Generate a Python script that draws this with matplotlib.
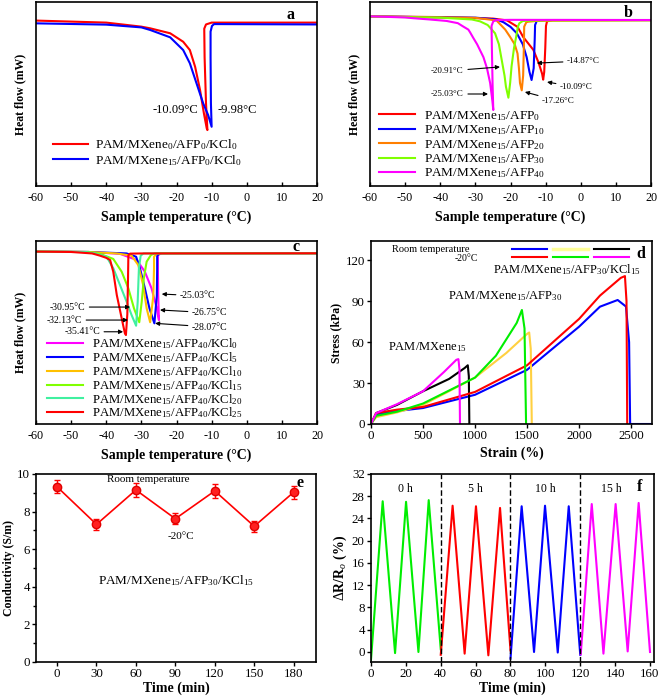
import matplotlib
matplotlib.use('Agg')
import matplotlib.pyplot as plt
from matplotlib.lines import Line2D
from matplotlib.ticker import MultipleLocator

plt.rcParams['font.family'] = ['Liberation Serif', 'DejaVu Serif']
plt.rcParams['mathtext.fontset'] = 'custom'
plt.rcParams['mathtext.rm'] = 'Liberation Serif'
plt.rcParams['mathtext.it'] = 'Liberation Serif:italic'
plt.rcParams['mathtext.bf'] = 'Liberation Serif:bold'
plt.rcParams['axes.unicode_minus'] = False

# ---------------- data ----------------
# panel a (temperature, heat flow arbitrary units)
a_red_T = [-60, -40, -30, -27.5, -21.8, -18.1, -16.2, -14.7, -13.3, -12.2, -11.4, -11.2, -11.6, -12.0, -12.1, -11.6, -10.0, 20]
a_red_y = [-10.1, -11.2, -13.4, -14.3, -17.0, -21.6, -26.1, -35.2, -47.8, -60.5, -68.6, -69.6, -55, -30, -14.5, -12.2, -11.2, -11.2]
a_blue_T = [-60, -40, -30, -27.5, -21.8, -18.1, -16.2, -14.3, -12.4, -11.0, -10.0, -10.2, -10.3, -10.3, -9.9, -9.3, 20]
a_blue_y = [-11.6, -12.3, -13.8, -15.2, -19.2, -26.1, -33.3, -44.2, -55.1, -61.4, -67.8, -55, -30, -16.1, -13.0, -12.0, -12.2]

# panel b
b_red_T = [-60, -40, -25, -21, -18, -16.4, -13.5, -12, -11, -10.7, -10.4, -10.1, -9.9, -9.6, -8, 20]
b_red_y = [-7.8, -8.2, -9.0, -10.0, -13.5, -19, -26, -33, -39, -42.2, -38, -25, -13, -10.5, -9.8, -9.8]
b_blue_T = [-60, -30, -24, -22, -20, -18.2, -16.5, -15.4, -14.6, -14.0, -13.4, -13.1, -13.0, -12.5, -10, 20]
b_blue_y = [-7.9, -8.5, -9.5, -11, -13.5, -17, -23, -30, -38, -42.4, -36, -20, -12.5, -10.2, -9.8, -9.8]
b_orange_T = [-60, -30, -24, -21.5, -20.1, -18.8, -18.0, -17.6, -17.3, -16.8, -16.4, -16.2, -16.1, -15.5, -14.9, -12, 20]
b_orange_y = [-7.9, -8.6, -10, -15, -19, -23, -28, -36, -44, -48, -40, -25, -13.4, -11, -10.7, -10.2, -9.9]
b_green_T = [-60, -40, -31, -28.7, -26.5, -24.4, -23.3, -22.5, -21.7, -21.3, -20.6, -20.1, -19.7, -19.0, -18.4, -17.9, -17.5, -16.5, -12, 20]
b_green_y = [-7.9, -8.5, -9.5, -10.5, -12.5, -17, -23, -31.5, -40, -46, -52, -44, -35, -25, -19, -13.5, -11.6, -10.3, -10, -9.9]
b_mag_T = [-60, -50, -47.7, -43, -38.2, -35, -33.4, -32, -31.5, -30.6, -29.5, -27.7, -26.7, -25.8, -25.2, -24.9, -25.1, -25.3, -25.4, -24.9, -23.9, -20, 20]
b_mag_y = [-7.8, -8.4, -8.8, -9.5, -10.3, -11.5, -13.4, -15, -16.5, -19.5, -23, -30, -36, -44, -53, -58.7, -45, -25, -13, -10.5, -9.8, -9.7, -9.8]

# panel c
c_mag_T = [-60, -45, -36.1, -31.3, -29.0, -27.1, -25.6, -25.0, -25.2, -25.3, -25.3, -24.2, 20]
c_mag_y = [-5.8, -6.0, -7.0, -10.4, -16.8, -25.9, -36.8, -43.2, -30, -15, -7.7, -6.6, -6.7]
c_blue_T = [-60, -45, -34.2, -31.5, -30.4, -29.0, -27.7, -26.3, -25.6, -25.5, -25.5, -24.7, 20]
c_blue_y = [-5.8, -6.0, -6.8, -8.6, -14.9, -25.9, -36.8, -45.0, -30, -15, -8.0, -6.7, -6.7]
c_yel_T = [-60, -45, -37.0, -32.8, -30.9, -29.5, -28.5, -27.5, -26.6, -26.4, -26.4, -25.6, 20]
c_yel_y = [-5.8, -6.0, -6.8, -8.0, -13.1, -24.0, -36.8, -44.4, -30, -15, -8.6, -6.7, -6.7]
c_grn_T = [-60, -45, -41.8, -38.0, -35.6, -33.7, -32.1, -30.6, -29.9, -29.3, -28.5, -27.3, -26.2, 20]
c_grn_y = [-5.8, -6.0, -7.0, -9.8, -16.8, -25.9, -36.8, -44.4, -33.2, -20.4, -11.3, -7.7, -6.7, -6.7]
c_cyan_T = [-60, -46, -43.2, -39.9, -38.0, -36.1, -34.2, -32.8, -31.5, -31.05, -30.7, -30.2, -29.4, 20]
c_cyan_y = [-5.8, -6.0, -6.8, -8.6, -14.9, -24.0, -33.2, -40.4, -46.3, -33.2, -14.9, -8.0, -6.8, -6.7]
c_red_T = [-60, -50, -44, -41.8, -40, -38.9, -38.0, -37.0, -35.6, -34.7, -34.4, -34.0, -33.8, -33.7, -33.2, -30, 20]
c_red_y = [-5.8, -6.0, -6.8, -8.0, -9.2, -10.4, -16.8, -29.5, -42.3, -50.4, -51.4, -40, -20, -7.7, -6.9, -6.8, -6.7]

# panel d (strain %, stress kPa)
d_blue_x = [0, 50, 250, 500, 1000, 1500, 2000, 2200, 2370, 2450, 2480, 2490, 2700]
d_blue_y = [0, 7, 9.5, 11.7, 21.4, 39.7, 71.3, 85.9, 90.8, 86, 60, 0, 0]
d_red_x = [0, 50, 250, 500, 1000, 1500, 2000, 2200, 2400, 2440, 2455, 2462]
d_red_y = [0, 8, 10.5, 12.5, 23.5, 43, 77, 94, 107, 108.3, 90, 0]
d_yel_x = [0, 50, 250, 500, 1000, 1300, 1500, 1520, 1535, 1545]
d_yel_y = [0, 5, 8.5, 14, 34, 52, 66, 67, 55, 0]
d_grn_x = [0, 50, 250, 500, 1000, 1200, 1400, 1450, 1475, 1490]
d_grn_y = [0, 6, 9, 15, 34, 50, 74, 83.5, 70, 0]
d_blk_x = [0, 50, 250, 500, 750, 900, 930, 940, 945]
d_blk_y = [0, 8, 14, 24, 33, 41, 43, 35, 0]
d_mag_x = [0, 50, 250, 500, 700, 820, 840, 850, 855]
d_mag_y = [0, 8, 14.5, 24, 38, 47, 47.5, 40, 0]

# panel e
e_time = [0, 30, 60, 90, 120, 150, 180]
e_cond = [9.32, 7.32, 9.15, 7.62, 9.1, 7.22, 9.03]
e_err = [0.35, 0.3, 0.35, 0.3, 0.35, 0.3, 0.35]

# panel f
f_g_t = [0, 6.7, 13.8, 20.1, 27.2, 33.1, 40]
f_g_r = [-1.4, 27.1, -0.2, 27.0, 0.0, 27.3, 0.5]
f_r_t = [40, 46.8, 53.7, 60.2, 67.3, 74, 80]
f_r_r = [-0.5, 26.3, -0.3, 26.2, -0.6, 25.9, 0.3]
f_b_t = [80, 86.4, 93.5, 99.8, 107.1, 113.4, 120]
f_b_r = [-1.2, 26.2, 0.0, 26.3, -0.1, 26.2, -0.5]
f_m_t = [120.3, 126.6, 133.3, 140.3, 147.2, 153.5, 160]
f_m_r = [-0.4, 26.6, -0.3, 26.6, 0.1, 26.8, 0.0]
f_sections = [40, 80, 120]
f_hours = ['0 h', '5 h', '10 h', '15 h']
f_hour_x = [20, 60, 100, 138]

# ---------------- figure ----------------
W, H = 661, 698
fig = plt.figure(figsize=(6.61, 6.98), dpi=100)

def ax_at(x0, y0, x1, y1):
    return fig.add_axes([x0 / W, 1 - y1 / H, (x1 - x0) / W, (y1 - y0) / H])

XLAB_FS = 10
LW = 1.5

def style(ax, direction='in', tick_fs=8.5):
    for s in ax.spines.values():
        s.set_linewidth(1.2)
    pad = 4 if direction == 'in' else 1.5
    ax.tick_params(direction=direction, length=3, width=1, labelsize=tick_fs, pad=pad)

def panel_letter(ax, s, x, y):
    ax.text(x, y, s, transform=ax.transAxes, fontsize=11.5, fontweight='bold',
            ha='center', va='center')

def dsc_axes(ax):
    style(ax, 'in', 8.7)
    ax.set_xlim(-60, 20)
    ax.set_ylim(-100, 0)
    ax.set_xticks(range(-60, 21, 10))
    ax.set_yticks([])
    ax.set_xlabel('Sample temperature (°C)', fontsize=XLAB_FS, fontweight='bold', labelpad=5)
    ax.set_ylabel('Heat flow (mW)', fontsize=8.5, fontweight='bold', labelpad=7)

def arrow(ax, text, xy, xytext, ha, fs):
    ax.annotate(text, xy=xy, xytext=xytext, ha=ha, va='center', fontsize=fs,
                arrowprops=dict(arrowstyle='-|>', color='k', lw=0.8, mutation_scale=6,
                                shrinkA=1, shrinkB=0))

# ---- a ----
ax = ax_at(36, 2, 317, 186)
dsc_axes(ax)
ax.plot(a_red_T, a_red_y, color='#ff0000', lw=LW, label=r'PAM/MXene$_{0}$/AFP$_{0}$/KCl$_{0}$')
ax.plot(a_blue_T, a_blue_y, color='#0000ff', lw=LW, label=r'PAM/MXene$_{15}$/AFP$_{0}$/KCl$_{0}$')
ax.text(-13.9, -58.7, '-10.09°C', ha='right', va='center', fontsize=9)
ax.text(-8.2, -58.7, '-9.98°C', ha='left', va='center', fontsize=9)
ax.legend(loc='lower left', bbox_to_anchor=(0.06, 0.1), frameon=False, fontsize=9.5,
          handlelength=2.7, handletextpad=0.5, labelspacing=0.05, borderpad=0, borderaxespad=0)
panel_letter(ax, 'a', 0.904, 0.929)

# ---- b ----
ax = ax_at(370, 2, 651, 186)
dsc_axes(ax)
ax.plot(b_red_T, b_red_y, color='#ff0000', lw=LW, label=r'PAM/MXene$_{15}$/AFP$_{0}$')
ax.plot(b_blue_T, b_blue_y, color='#0000ff', lw=LW, label=r'PAM/MXene$_{15}$/AFP$_{10}$')
ax.plot(b_orange_T, b_orange_y, color='#ff7f00', lw=LW, label=r'PAM/MXene$_{15}$/AFP$_{20}$')
ax.plot(b_green_T, b_green_y, color='#80ff00', lw=LW, label=r'PAM/MXene$_{15}$/AFP$_{30}$')
ax.plot(b_mag_T, b_mag_y, color='#ff00ff', lw=LW, label=r'PAM/MXene$_{15}$/AFP$_{40}$')
arrow(ax, '-14.87°C', (-12.5, -33.2), (-3.9, -32.1), 'left', 6.5)
arrow(ax, '-10.09°C', (-9.6, -43.5), (-5.9, -46.2), 'left', 6.5)
arrow(ax, '-17.26°C', (-15.9, -48.9), (-11.0, -53.8), 'left', 6.5)
arrow(ax, '-20.91°C', (-23.0, -35.3), (-33.3, -37.5), 'right', 6.5)
arrow(ax, '-25.03°C', (-26.4, -50.0), (-33.3, -50.0), 'right', 6.5)
ax.legend(loc='lower left', bbox_to_anchor=(0.032, 0.03), frameon=False, fontsize=9.5,
          handlelength=2.7, handletextpad=0.7, labelspacing=0.05, borderpad=0, borderaxespad=0)
panel_letter(ax, 'b', 0.918, 0.94)

# ---- c ----
ax = ax_at(36, 241, 317, 424)
dsc_axes(ax)
ax.plot(c_mag_T, c_mag_y, color='#ff00ff', lw=LW, label=r'PAM/MXene$_{15}$/AFP$_{40}$/KCl$_{0}$')
ax.plot(c_blue_T, c_blue_y, color='#0000ff', lw=LW, label=r'PAM/MXene$_{15}$/AFP$_{40}$/KCl$_{5}$')
ax.plot(c_yel_T, c_yel_y, color='#ffc000', lw=LW, label=r'PAM/MXene$_{15}$/AFP$_{40}$/KCl$_{10}$')
ax.plot(c_grn_T, c_grn_y, color='#80ff00', lw=LW, label=r'PAM/MXene$_{15}$/AFP$_{40}$/KCl$_{15}$')
ax.plot(c_cyan_T, c_cyan_y, color='#40f0a0', lw=LW, label=r'PAM/MXene$_{15}$/AFP$_{40}$/KCl$_{20}$')
ax.plot(c_red_T, c_red_y, color='#ff0000', lw=LW, label=r'PAM/MXene$_{15}$/AFP$_{40}$/KCl$_{25}$')
arrow(ax, '-25.03°C', (-24.2, -29.0), (-19.0, -29.9), 'left', 7)
arrow(ax, '-26.75°C', (-24.7, -37.7), (-15.6, -39.2), 'left', 7)
arrow(ax, '-28.07°C', (-26.1, -45.0), (-15.6, -47.0), 'left', 7)
arrow(ax, '-30.95°C', (-33.2, -36.1), (-46.0, -36.1), 'right', 7)
arrow(ax, '-32.13°C', (-33.8, -43.2), (-46.9, -43.2), 'right', 7)
arrow(ax, '-35.41°C', (-35.2, -49.6), (-41.8, -49.6), 'right', 7)
ax.legend(loc='lower left', bbox_to_anchor=(0.039, 0.02), frameon=False, fontsize=9.2,
          handlelength=2.8, handletextpad=0.7, labelspacing=-0.08, borderpad=0, borderaxespad=0)
panel_letter(ax, 'c', 0.925, 0.967)

# ---- d ----
ax = ax_at(371, 241, 652, 424)
style(ax, 'out', 9.3)
ax.set_xlim(0, 2700)
ax.set_ylim(0, 134)
ax.set_xticks(range(0, 2501, 500))
ax.set_yticks(range(0, 121, 30))
hb, = ax.plot(d_blue_x, d_blue_y, color='#0000ff', lw=LW)
hy, = ax.plot(d_yel_x, d_yel_y, color='#ffd040', lw=LW)
hk, = ax.plot(d_blk_x, d_blk_y, color='#000000', lw=LW)
hr, = ax.plot(d_red_x, d_red_y, color='#ff0000', lw=LW)
hg, = ax.plot(d_grn_x, d_grn_y, color='#00ee00', lw=LW)
hm, = ax.plot(d_mag_x, d_mag_y, color='#ff00ff', lw=LW)
hy_leg = Line2D([], [], color='#ffff99', lw=LW + 1)
ax.legend([hb, hr, hy_leg, hg, hk, hm], [''] * 6, ncol=3, loc='upper left',
          bbox_to_anchor=(0.502, 0.975), frameon=False, fontsize=6,
          handlelength=4.2, handletextpad=0, columnspacing=0.7, labelspacing=0.1,
          borderpad=0, borderaxespad=0)
ax.text(0.075, 0.951, 'Room temperature', transform=ax.transAxes, fontsize=7.5, ha='left', va='center')
ax.text(0.381, 0.902, '-20°C', transform=ax.transAxes, fontsize=7, ha='right', va='center')
ax.text(1172, 112.7, r'PAM/MXene$_{15}$/AFP$_{30}$/KCl$_{15}$', fontsize=9, ha='left', va='center')
ax.text(740, 94, r'PAM/MXene$_{15}$/AFP$_{30}$', fontsize=9, ha='left', va='center')
ax.text(163, 56, r'PAM/MXene$_{15}$', fontsize=9, ha='left', va='center')
ax.set_xlabel('Strain (%)', fontsize=XLAB_FS, fontweight='bold', labelpad=3)
ax.set_ylabel('Stress (kPa)', fontsize=8.5, fontweight='bold', labelpad=2)
panel_letter(ax, 'd', 0.961, 0.929)

# ---- e ----
ax = ax_at(36, 474, 316, 662)
style(ax, 'out', 9.3)
ax.set_xlim(-16, 197)
ax.set_ylim(0, 10)
ax.set_xticks(e_time)
ax.set_yticks(range(0, 11, 2))
ax.yaxis.set_minor_locator(MultipleLocator(1))
ax.tick_params(which='minor', direction='out', length=2, width=1)
ax.errorbar(e_time, e_cond, yerr=e_err, color='#ff0000', lw=1.2, marker='o', markersize=6,
            markerfacecolor='#ff2020', markeredgecolor='#e00000', ecolor='#ff0000',
            elinewidth=1, capsize=2.5, capthick=1)
ax.plot(e_time, e_cond, linestyle='none', marker='o', markersize=2.2, color='#ffc8c8')
ax.text(38, 9.73, 'Room temperature', fontsize=8, ha='left', va='center')
ax.text(84, 6.7, '-20°C', fontsize=8, ha='left', va='center')
ax.text(31, 4.34, r'PAM/MXene$_{15}$/AFP$_{30}$/KCl$_{15}$', fontsize=9.5, ha='left', va='center')
ax.set_xlabel('Time (min)', fontsize=XLAB_FS, fontweight='bold', labelpad=1)
ax.set_ylabel('Conductivity (S/m)', fontsize=8.5, fontweight='bold', labelpad=1.5)
panel_letter(ax, 'e', 0.943, 0.952)

# ---- f ----
ax = ax_at(371, 474, 654, 662)
style(ax, 'out', 9.3)
ax.set_xlim(0, 162.3)
ax.set_ylim(-1.8, 32)
ax.set_xticks(range(0, 161, 20))
ax.set_yticks(range(0, 33, 4))
ax.plot(f_g_t, f_g_r, color='#00ee00', lw=LW)
ax.plot(f_r_t, f_r_r, color='#ff0000', lw=LW)
ax.plot(f_b_t, f_b_r, color='#0000ff', lw=LW)
ax.plot(f_m_t, f_m_r, color='#ff00ff', lw=LW)
for xs in f_sections:
    ax.axvline(xs, color='k', lw=1, linestyle=(0, (4, 2)))
for lab, xh in zip(f_hours, f_hour_x):
    ax.text(xh, 29.3, lab, fontsize=8.5, ha='center', va='center')
ax.set_xlabel('Time (min)', fontsize=XLAB_FS, fontweight='bold', labelpad=1)
ax.set_ylabel(r'$\Delta$R/R$_{o}$ (%)', fontsize=10, fontweight='bold', labelpad=2)
panel_letter(ax, 'f', 0.95, 0.93)

fig.savefig('out.png', dpi=100)
